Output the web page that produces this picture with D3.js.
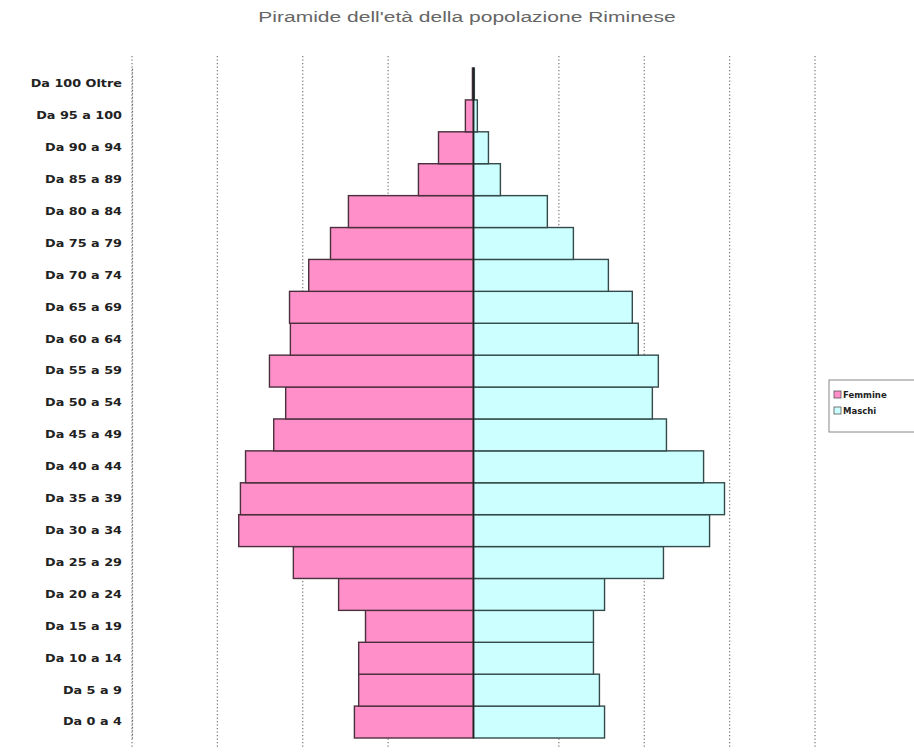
<!DOCTYPE html>
<html>
<head>
<meta charset="utf-8">
<script src="https://cdn.jsdelivr.net/npm/d3@7"></script>
<style>
  html, body { margin: 0; padding: 0; background: #fff; }
  svg { display: block; }
</style>
</head>
<body>
<svg id="chart" width="914" height="756"></svg>
<script>
// ---- Data ----
const ageGroups = ["Da 0 a 4","Da 5 a 9","Da 10 a 14","Da 15 a 19","Da 20 a 24","Da 25 a 29",
  "Da 30 a 34","Da 35 a 39","Da 40 a 44","Da 45 a 49","Da 50 a 54","Da 55 a 59","Da 60 a 64",
  "Da 65 a 69","Da 70 a 74","Da 75 a 79","Da 80 a 84","Da 85 a 89","Da 90 a 94","Da 95 a 100","Da 100 Oltre"];
const femmine = [2790,2690,2690,2530,3160,4220,5500,5460,5340,4680,4400,4780,4290,4310,3860,3350,2930,1290,820,190,25];
const maschi  = [3070,2950,2810,2810,3070,4450,5530,5880,5390,4520,4190,4330,3860,3720,3160,2340,1730,630,350,90,20];
const gridTicks = [-8000,-6000,-4000,-2000,0,2000,4000,6000,8000];
const seriesNames = ["Femmine","Maschi"];
const title = "Piramide dell'età della popolazione Riminese";

// ---- Layout ----
const svg = d3.select("#chart");
const plot = {left:132, right:815, top:68, bottom:738};
const colF = "#ff8fc8", colM = "#ccffff";

const x = d3.scaleLinear().domain([-8000, 8000]).range([plot.left, plot.right]);
const y = d3.scaleBand().domain(ageGroups).range([plot.bottom, plot.top]).paddingInner(0).paddingOuter(0);

// title (horizontally stretched like the reference)
svg.append("text")
  .attr("transform", "translate(467,22) scale(1.45,1)")
  .attr("text-anchor", "middle")
  .attr("font-family", "Liberation Sans, Arial, sans-serif")
  .attr("font-size", 14.5)
  .attr("fill", "#666")
  .text(title);

// gridlines
svg.append("g").selectAll("line")
  .data(gridTicks.filter(d => d !== 0))
  .join("line")
  .attr("x1", d => x(d)).attr("x2", d => x(d))
  .attr("y1", 56).attr("y2", 747)
  .attr("stroke", "#777")
  .attr("stroke-width", 1.2)
  .attr("stroke-dasharray", "1.2,2.3");

// bars
const g = svg.append("g");
g.selectAll("rect.f")
  .data(ageGroups)
  .join("rect")
  .attr("class", "f")
  .attr("x", (d,i) => x(-femmine[i]))
  .attr("width", (d,i) => x(0) - x(-femmine[i]))
  .attr("y", d => y(d))
  .attr("height", y.bandwidth())
  .attr("fill", colF)
  .attr("stroke", "#4a2f3c")
  .attr("stroke-width", 1.4);

g.selectAll("rect.m")
  .data(ageGroups)
  .join("rect")
  .attr("class", "m")
  .attr("x", x(0))
  .attr("width", (d,i) => x(maschi[i]) - x(0))
  .attr("y", d => y(d))
  .attr("height", y.bandwidth())
  .attr("fill", colM)
  .attr("stroke", "#344a4a")
  .attr("stroke-width", 1.4);

// center axis
svg.append("line")
  .attr("x1", x(0)).attr("x2", x(0))
  .attr("y1", plot.top).attr("y2", plot.bottom)
  .attr("stroke", "#222").attr("stroke-width", 1.6);

// left (category) axis
const yAxis = d3.axisLeft(y).tickSize(0).tickPadding(10);
const ya = svg.append("g").attr("transform", `translate(${plot.left},0)`).call(yAxis);
ya.select(".domain")
  .attr("stroke", "#666")
  .attr("stroke-width", 1.2)
  .attr("stroke-dasharray", "1.2,2.3");
ya.selectAll(".tick text")
  .attr("x", 0)
  .attr("transform", "translate(-10,0) scale(1.22,1)")
  .attr("font-family", "DejaVu Sans, sans-serif")
  .attr("font-weight", "bold")
  .attr("font-size", 10.5)
  .attr("fill", "#222");

// legend
const lg = svg.append("g").attr("transform", "translate(829,380)");
lg.append("rect")
  .attr("x", 0).attr("y", 0).attr("width", 100).attr("height", 52)
  .attr("fill", "#fff").attr("stroke", "#888").attr("stroke-width", 1);
const items = lg.selectAll("g.item")
  .data(seriesNames)
  .join("g")
  .attr("class", "item")
  .attr("transform", (d,i) => `translate(5,${15 + i*16})`);
items.append("rect")
  .attr("x", 0).attr("y", -4).attr("width", 7).attr("height", 7)
  .attr("fill", (d,i) => i === 0 ? colF : colM)
  .attr("stroke", "#555").attr("stroke-width", 0.8);
items.append("text")
  .attr("x", 9).attr("y", 3)
  .attr("font-family", "DejaVu Sans, sans-serif")
  .attr("font-weight", "bold")
  .attr("font-size", 8.5)
  .attr("fill", "#222")
  .text(d => d);
</script>
</body>
</html>
